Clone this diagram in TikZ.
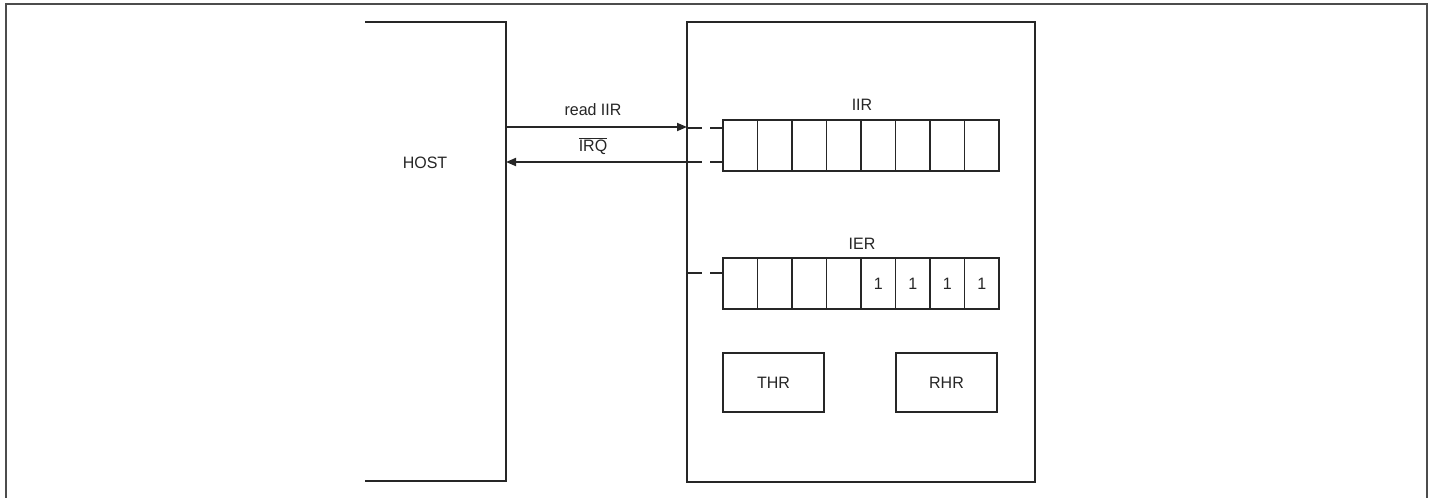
\documentclass[tikz,border=0pt]{standalone}
\usepackage{fontspec}
\setmainfont{Liberation Sans}
\usetikzlibrary{arrows.meta}
\newcommand{\nt}[1]{\scalebox{0.97}[1]{#1}}
\begin{document}
\begin{tikzpicture}[x=1pt,y=-1pt, line width=1.8pt, color=black!85,
  lbl/.style={font=\fontsize{16.5}{19}\selectfont, inner sep=0},
  cell/.style={draw, minimum width=34.5pt, minimum height=51pt, inner sep=0, outer sep=0, anchor=north west, font=\fontsize{16.5}{19}\selectfont},
  regbox/.style={draw, minimum width=101pt, minimum height=59pt, inner sep=0, outer sep=0, font=\fontsize{16.5}{19}\selectfont},
  arr/.style={-{Triangle[length=10pt,width=8pt]}}]
\useasboundingbox (0,0) rectangle (1433,498);
% outer frame
\draw[line width=2pt, black!70] (6,499) -- (6,4) -- (1427,4) -- (1427,499);
% host
\draw (365,22) -- (506,22) -- (506,481) -- (365,481);
\node[lbl] (host) at (425,163) {\nt{HOST}};
% device
\node[draw, minimum width=348pt, minimum height=460pt, inner sep=0, outer sep=0, anchor=north west] (dev) at (687,22) {};
% IIR register
\foreach \i in {0,...,7} {
  \node[cell] (iir\i) at ({723+\i*34.5},120) {};
}
\node[lbl] (iirlbl) at (862,105) {\nt{IIR}};
% IER register
\foreach \i in {0,...,3} {
  \node[cell] (ier\i) at ({723+\i*34.5},258) {};
}
\foreach \i in {4,...,7} {
  \node[cell] (ier\i) at ({723+\i*34.5},258) {\raisebox{-3pt}{\nt{1}}};
}
\node[lbl] (ierlbl) at (862,244) {\nt{IER}};
% THR / RHR
\node[regbox] (thr) at (773.5,382.5) {\nt{THR}};
\node[regbox] (rhr) at (946.5,382.5) {\nt{RHR}};
% connectors
\coordinate (hA) at (506,127);
\coordinate (hB) at (506,162);
\draw[arr] (hA) -- (hA -| dev.west) coordinate (dA);
\draw[arr] (hB -| dev.west) coordinate (dB) -- (hB);
\node[lbl] (readlbl) at (593,110) {\nt{read IIR}};
\node[lbl] (irqlbl) at (593,146) {\nt{$\overline{\mbox{IRQ}}$}};
% dashed stubs
\coordinate (sA) at (687,128);
\coordinate (sB) at (687,162);
\coordinate (sC) at (687,273);
\foreach \s in {sA,sB,sC} {
  \draw (\s) -- ([xshift=15pt]\s);
  \draw ([xshift=23pt]\s) -- ([xshift=36pt]\s);
}
\end{tikzpicture}
\end{document}
